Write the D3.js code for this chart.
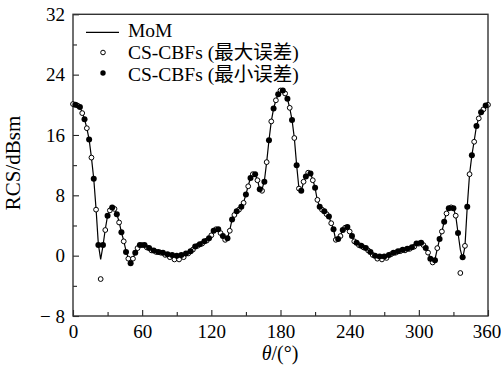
<!DOCTYPE html>
<html>
<head>
<meta charset="utf-8">
<script src="https://cdn.jsdelivr.net/npm/d3@7"></script>
<style>
  html, body { margin: 0; padding: 0; background: #fff; }
  svg { display: block; }
  text { font-family: "Liberation Serif", "Noto Sans CJK SC", serif; fill: #000; }
</style>
</head>
<body>
<svg id="chart" width="501" height="377"></svg>
<script>
// ---- data ----
const momAngles = d3.range(0, 361, 2);
const momValues = [
  20.1, 20.0, 19.9, 19.7, 19.0, 18.1, 16.9, 15.4, 13.0, 10.2,
  6.2, 1.5, -0.5, 1.3, 3.5, 5.3, 6.0, 6.3, 6.2, 5.5,
  4.5, 3.1, 2.0, 0.6, -0.3, -0.9, -0.4, 0.4, 1.1, 1.4,
  1.5, 1.4, 1.2, 1.0, 0.8, 0.7, 0.6, 0.5, 0.5, 0.4,
  0.3, 0.2, 0.1, 0.0, -0.1, -0.1, 0.0, 0.1, 0.2, 0.3,
  0.5, 0.6, 0.9, 1.2, 1.4, 1.5, 1.7, 1.9, 2.1, 2.3,
  2.8, 3.3, 3.6, 3.5, 3.1, 2.6, 2.2, 2.3, 3.4, 4.8,
  5.5, 5.9, 6.2, 6.5, 7.1, 8.1, 9.3, 10.3, 10.9, 10.7,
  10.1, 8.7, 8.8, 9.9, 12.4, 15.3, 17.8, 19.5, 20.6, 21.4,
  21.9, 21.9, 21.5, 20.8, 19.6, 18.0, 15.6, 12.0, 8.9, 8.6,
  9.7, 10.5, 11.1, 10.9, 10.1, 9.0, 7.3, 6.5, 6.2, 5.9,
  5.6, 5.2, 4.3, 3.5, 2.0, 2.2, 2.7, 3.4, 3.8, 3.8,
  3.3, 2.6, 2.0, 1.7, 1.5, 1.3, 1.2, 1.0, 0.8, 0.5,
  0.2, 0.0, -0.2, -0.2, -0.2, -0.1, -0.1, 0.1, 0.3, 0.4,
  0.5, 0.6, 0.7, 0.8, 0.8, 0.9, 1.0, 1.1, 1.3, 1.6,
  1.7, 1.7, 1.5, 1.0, 0.5, -0.4, -0.9, -0.5, 0.9, 2.2,
  3.2, 4.5, 5.7, 6.3, 6.4, 6.3, 5.3, 3.0, 0.8, -0.4,
  1.2, 6.5, 10.8, 13.3, 15.2, 17.2, 18.2, 19.0, 19.5, 19.9,
  20.1
];

// CS-CBFs (最大误差) — open circles
const maxErrAngles = d3.range(0, 361, 4);
const maxErrValues = [
  20.1, 19.9, 18.9, 16.9, 13.0, 6.1, -3.1, 3.4, 6.0, 6.2,
  4.4, 1.9, -0.4, -0.4, 1.0, 1.4, 1.1, 0.7, 0.5, 0.4,
  0.1, -0.2, -0.5, -0.5, -0.2, 0.3, 0.8, 1.3, 1.6, 2.0,
  2.7, 3.5, 3.0, 2.1, 3.3, 5.4, 6.1, 7.0, 9.2, 10.8,
  10.0, 8.6, 12.4, 17.8, 20.6, 21.9, 21.5, 19.6, 15.6, 8.9,
  9.8, 11.0, 10.0, 7.4, 6.1, 5.5, 4.3, 2.1, 2.6, 3.7,
  3.2, 1.9, 1.4, 1.1, 0.7, 0.1, -0.4, -0.5, -0.3, 0.2,
  0.4, 0.6, 0.7, 0.9, 1.2, 1.6, 1.4, 0.4, -0.9, 1.0,
  3.2, 5.6, 6.4, 5.3, -2.3, 1.3, 10.8, 15.1, 18.2, 19.4,
  20.0
];

// CS-CBFs (最小误差) — filled circles
const minErrAngles = d3.range(2, 359, 4);
const minErrValues = [
  20.0, 19.7, 18.1, 15.4, 10.2, 1.4, 1.4, 5.3, 6.4, 5.5,
  3.1, 0.5, -1.0, 0.4, 1.4, 1.4, 1.0, 0.7, 0.5, 0.4,
  0.2, 0.1, 0.0, 0.1, 0.3, 0.6, 1.2, 1.5, 1.9, 2.3,
  3.3, 3.5, 2.6, 2.3, 4.8, 5.9, 6.5, 8.1, 10.3, 10.8,
  8.8, 9.8, 15.3, 19.5, 21.4, 21.9, 20.8, 18.0, 12.0, 8.6,
  10.5, 10.9, 9.0, 6.5, 5.9, 5.2, 3.5, 2.2, 3.4, 3.8,
  2.6, 1.7, 1.3, 1.0, 0.5, 0.0, -0.1, -0.1, 0.1, 0.4,
  0.6, 0.8, 0.9, 1.1, 1.6, 1.7, 1.0, -0.4, -0.6, 2.2,
  4.5, 6.3, 6.3, 3.0, -0.2, 6.5, 13.3, 17.2, 19.0, 19.9
];

const xMajorTicks = [0, 60, 120, 180, 240, 300, 360];
const xMinorTicks = [30, 90, 150, 210, 270, 330];
const yMajorTicks = [-8, 0, 8, 16, 24, 32];
const yMinorTicks = [-4, 4, 12, 20, 28];
const legendLabels = ["MoM", "CS-CBFs (最大误差)", "CS-CBFs (最小误差)"];
const xTitle = ["θ", "/(°)"];
const yTitle = "RCS/dBsm";

// ---- layout ----
const svg = d3.select("#chart");
const X0 = 73, X1 = 488, Y0 = 316, Y1 = 14.3;
const x = d3.scaleLinear().domain([0, 360]).range([X0, X1]);
const y = d3.scaleLinear().domain([-8, 32]).range([Y0, Y1]);

const fmtY = d => d < 0 ? "\u2212 " + Math.abs(d) : String(d);

// minor ticks
svg.append("g").attr("transform", `translate(0,${Y0})`)
  .call(d3.axisBottom(x).tickValues(xMinorTicks).tickSize(-4).tickFormat(""))
  .call(g => g.select(".domain").remove())
  .call(g => g.selectAll("line").attr("stroke", "#222").attr("stroke-width", 1.1));
svg.append("g").attr("transform", `translate(${X0},0)`)
  .call(d3.axisLeft(y).tickValues(yMinorTicks).tickSize(-4).tickFormat(""))
  .call(g => g.select(".domain").remove())
  .call(g => g.selectAll("line").attr("stroke", "#222").attr("stroke-width", 1.1));

// major ticks + labels
svg.append("g").attr("transform", `translate(0,${Y0})`)
  .call(d3.axisBottom(x).tickValues(xMajorTicks).tickSize(-6).tickPadding(9).tickFormat(d3.format("d")))
  .call(g => g.select(".domain").remove())
  .call(g => g.selectAll("line").attr("stroke", "#222").attr("stroke-width", 1.1))
  .call(g => g.selectAll("text").attr("font-size", 19)
      .attr("font-family", "Liberation Serif, serif").attr("fill", "#000")
      .attr("dx", d => d === 360 ? -1.5 : 0));
svg.append("g").attr("transform", `translate(${X0},0)`)
  .call(d3.axisLeft(y).tickValues(yMajorTicks).tickSize(-6).tickPadding(8).tickFormat(fmtY))
  .call(g => g.select(".domain").remove())
  .call(g => g.selectAll("line").attr("stroke", "#222").attr("stroke-width", 1.1))
  .call(g => g.selectAll("text").attr("font-size", 19)
      .attr("font-family", "Liberation Serif, serif").attr("fill", "#000"));

// frame
svg.append("rect")
  .attr("x", X0).attr("y", Y1).attr("width", X1 - X0).attr("height", Y0 - Y1)
  .attr("fill", "none").attr("stroke", "#333").attr("stroke-width", 1.4);

// MoM line
const line = d3.line().x(d => x(d[0])).y(d => y(d[1]));
svg.append("path")
  .datum(momAngles.map((a, i) => [a, momValues[i]]))
  .attr("d", line).attr("fill", "none").attr("stroke", "#000").attr("stroke-width", 1.2);

// open markers
svg.append("g").selectAll("circle")
  .data(maxErrAngles.map((a, i) => [a, maxErrValues[i]]))
  .join("circle")
  .attr("cx", d => x(d[0])).attr("cy", d => y(d[1])).attr("r", 2.4)
  .attr("fill", "#fff").attr("stroke", "#000").attr("stroke-width", 1);

// filled markers
svg.append("g").selectAll("circle")
  .data(minErrAngles.map((a, i) => [a, minErrValues[i]]))
  .join("circle")
  .attr("cx", d => x(d[0])).attr("cy", d => y(d[1])).attr("r", 3)
  .attr("fill", "#000");

// legend
const lg = svg.append("g");
lg.append("line").attr("x1", 86).attr("x2", 119).attr("y1", 32.3).attr("y2", 32.3)
  .attr("stroke", "#000").attr("stroke-width", 1.2);
lg.append("circle").attr("cx", 103).attr("cy", 52.5).attr("r", 2.3)
  .attr("fill", "#fff").attr("stroke", "#000").attr("stroke-width", 1);
lg.append("circle").attr("cx", 103).attr("cy", 73).attr("r", 2.7).attr("fill", "#000");
const lgY = [37, 59, 81];
lg.selectAll("text.lg").data(legendLabels).join("text").attr("class", "lg")
  .attr("x", 128).attr("y", (d, i) => lgY[i]).attr("font-size", 19.5).text(d => d);

// axis titles
const xt = svg.append("text").attr("x", 280).attr("y", 360)
  .attr("text-anchor", "middle").attr("font-size", 20);
xt.append("tspan").attr("font-style", "italic").text(xTitle[0]);
xt.append("tspan").text(xTitle[1]);

svg.append("text").attr("transform", "translate(20,163) rotate(-90)")
  .attr("text-anchor", "middle").attr("font-size", 21).text(yTitle);
</script>
</body>
</html>
